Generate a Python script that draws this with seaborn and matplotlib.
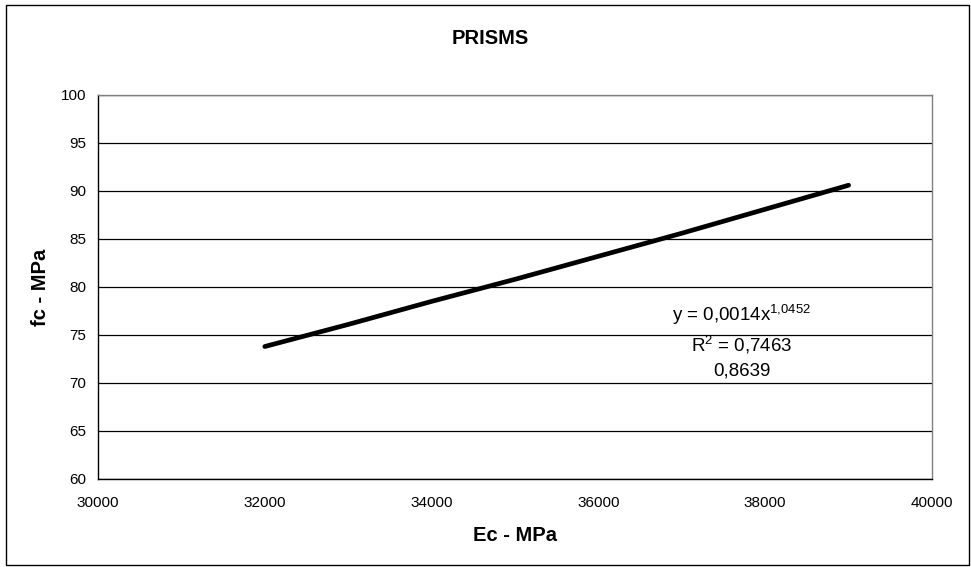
import matplotlib
matplotlib.use("Agg")
import matplotlib.pyplot as plt
from matplotlib.patches import Rectangle
import pandas as pd
import seaborn as sns

# Power trendline of fc against Ec (prisms)
ec_mpa = [32000, 33000, 34000, 35000, 36000, 37000, 38000, 39000]
fc_mpa = [73.8, 76.1, 78.5, 80.8, 83.2, 85.6, 88.1, 90.6]

x_ticks = [30000, 32000, 34000, 36000, 38000, 40000]
y_ticks = [60, 65, 70, 75, 80, 85, 90, 95, 100]

equation_text = r"y = 0,0014x$^{1{,}0452}$"
r2_text = r"R$^{2}$ = 0,7463"
r_text = "0,8639"

sns.set_theme(style="white")
plt.rcParams["font.family"] = ["Liberation Sans", "DejaVu Sans"]
plt.rcParams["mathtext.fontset"] = "custom"
plt.rcParams["mathtext.rm"] = "Liberation Sans"
plt.rcParams["mathtext.default"] = "regular"
for key in ("text.color", "axes.labelcolor", "xtick.color", "ytick.color"):
    plt.rcParams[key] = "black"

df = pd.DataFrame({"Ec": ec_mpa, "fc": fc_mpa})

fig = plt.figure(figsize=(9.71, 5.67), dpi=100)
ax = fig.add_axes([98 / 971, 1 - 479 / 567, (932 - 98) / 971, (479 - 95) / 567])

sns.lineplot(data=df, x="Ec", y="fc", ax=ax, color="black", linewidth=3.4,
             solid_capstyle="round")

ax.set_xlim(30000, 40000)
ax.set_ylim(60, 100)
ax.set_xticks(x_ticks)
ax.set_yticks(y_ticks)
ax.set_xticklabels([str(v) for v in x_ticks])
ax.set_yticklabels([str(v) for v in y_ticks])

ax.yaxis.grid(True, color="black", linewidth=0.9)
ax.xaxis.grid(False)
ax.set_axisbelow(True)

for side in ("left", "bottom"):
    ax.spines[side].set_color("black")
    ax.spines[side].set_linewidth(1.0)
for side in ("top", "right"):
    ax.spines[side].set_color("#808080")
    ax.spines[side].set_linewidth(1.0)

ax.tick_params(axis="both", which="major", direction="out", length=4, width=1,
               color="black", labelsize=11, labelcolor="black")
ax.tick_params(axis="x", pad=8)
ax.tick_params(axis="y", pad=4.5)

ax.set_xlabel("Ec - MPa", fontsize=14.5, fontweight="bold", labelpad=12,
              color="black")
ax.set_ylabel("fc - MPa", fontsize=14.5, fontweight="bold", labelpad=8,
              color="black")

fig.text(490 / 971, 1 - 38 / 567, "PRISMS", ha="center", va="center",
         fontsize=14.5, fontweight="bold", color="black")

ax.text(37720, 77.1, equation_text, ha="center", va="center", fontsize=13.5,
        color="black")
ax.text(37720, 74.0, r2_text, ha="center", va="center", fontsize=13.5,
        color="black")
ax.text(37720, 71.3, r_text, ha="center", va="center", fontsize=13.5,
        color="black")

# Chart-area frame
fig.patches.append(Rectangle((6 / 971, 1 - 565 / 567), 963 / 971, 560 / 567,
                             transform=fig.transFigure, fill=False,
                             edgecolor="black", linewidth=1.0))

fig.savefig("out.png", dpi=100)
